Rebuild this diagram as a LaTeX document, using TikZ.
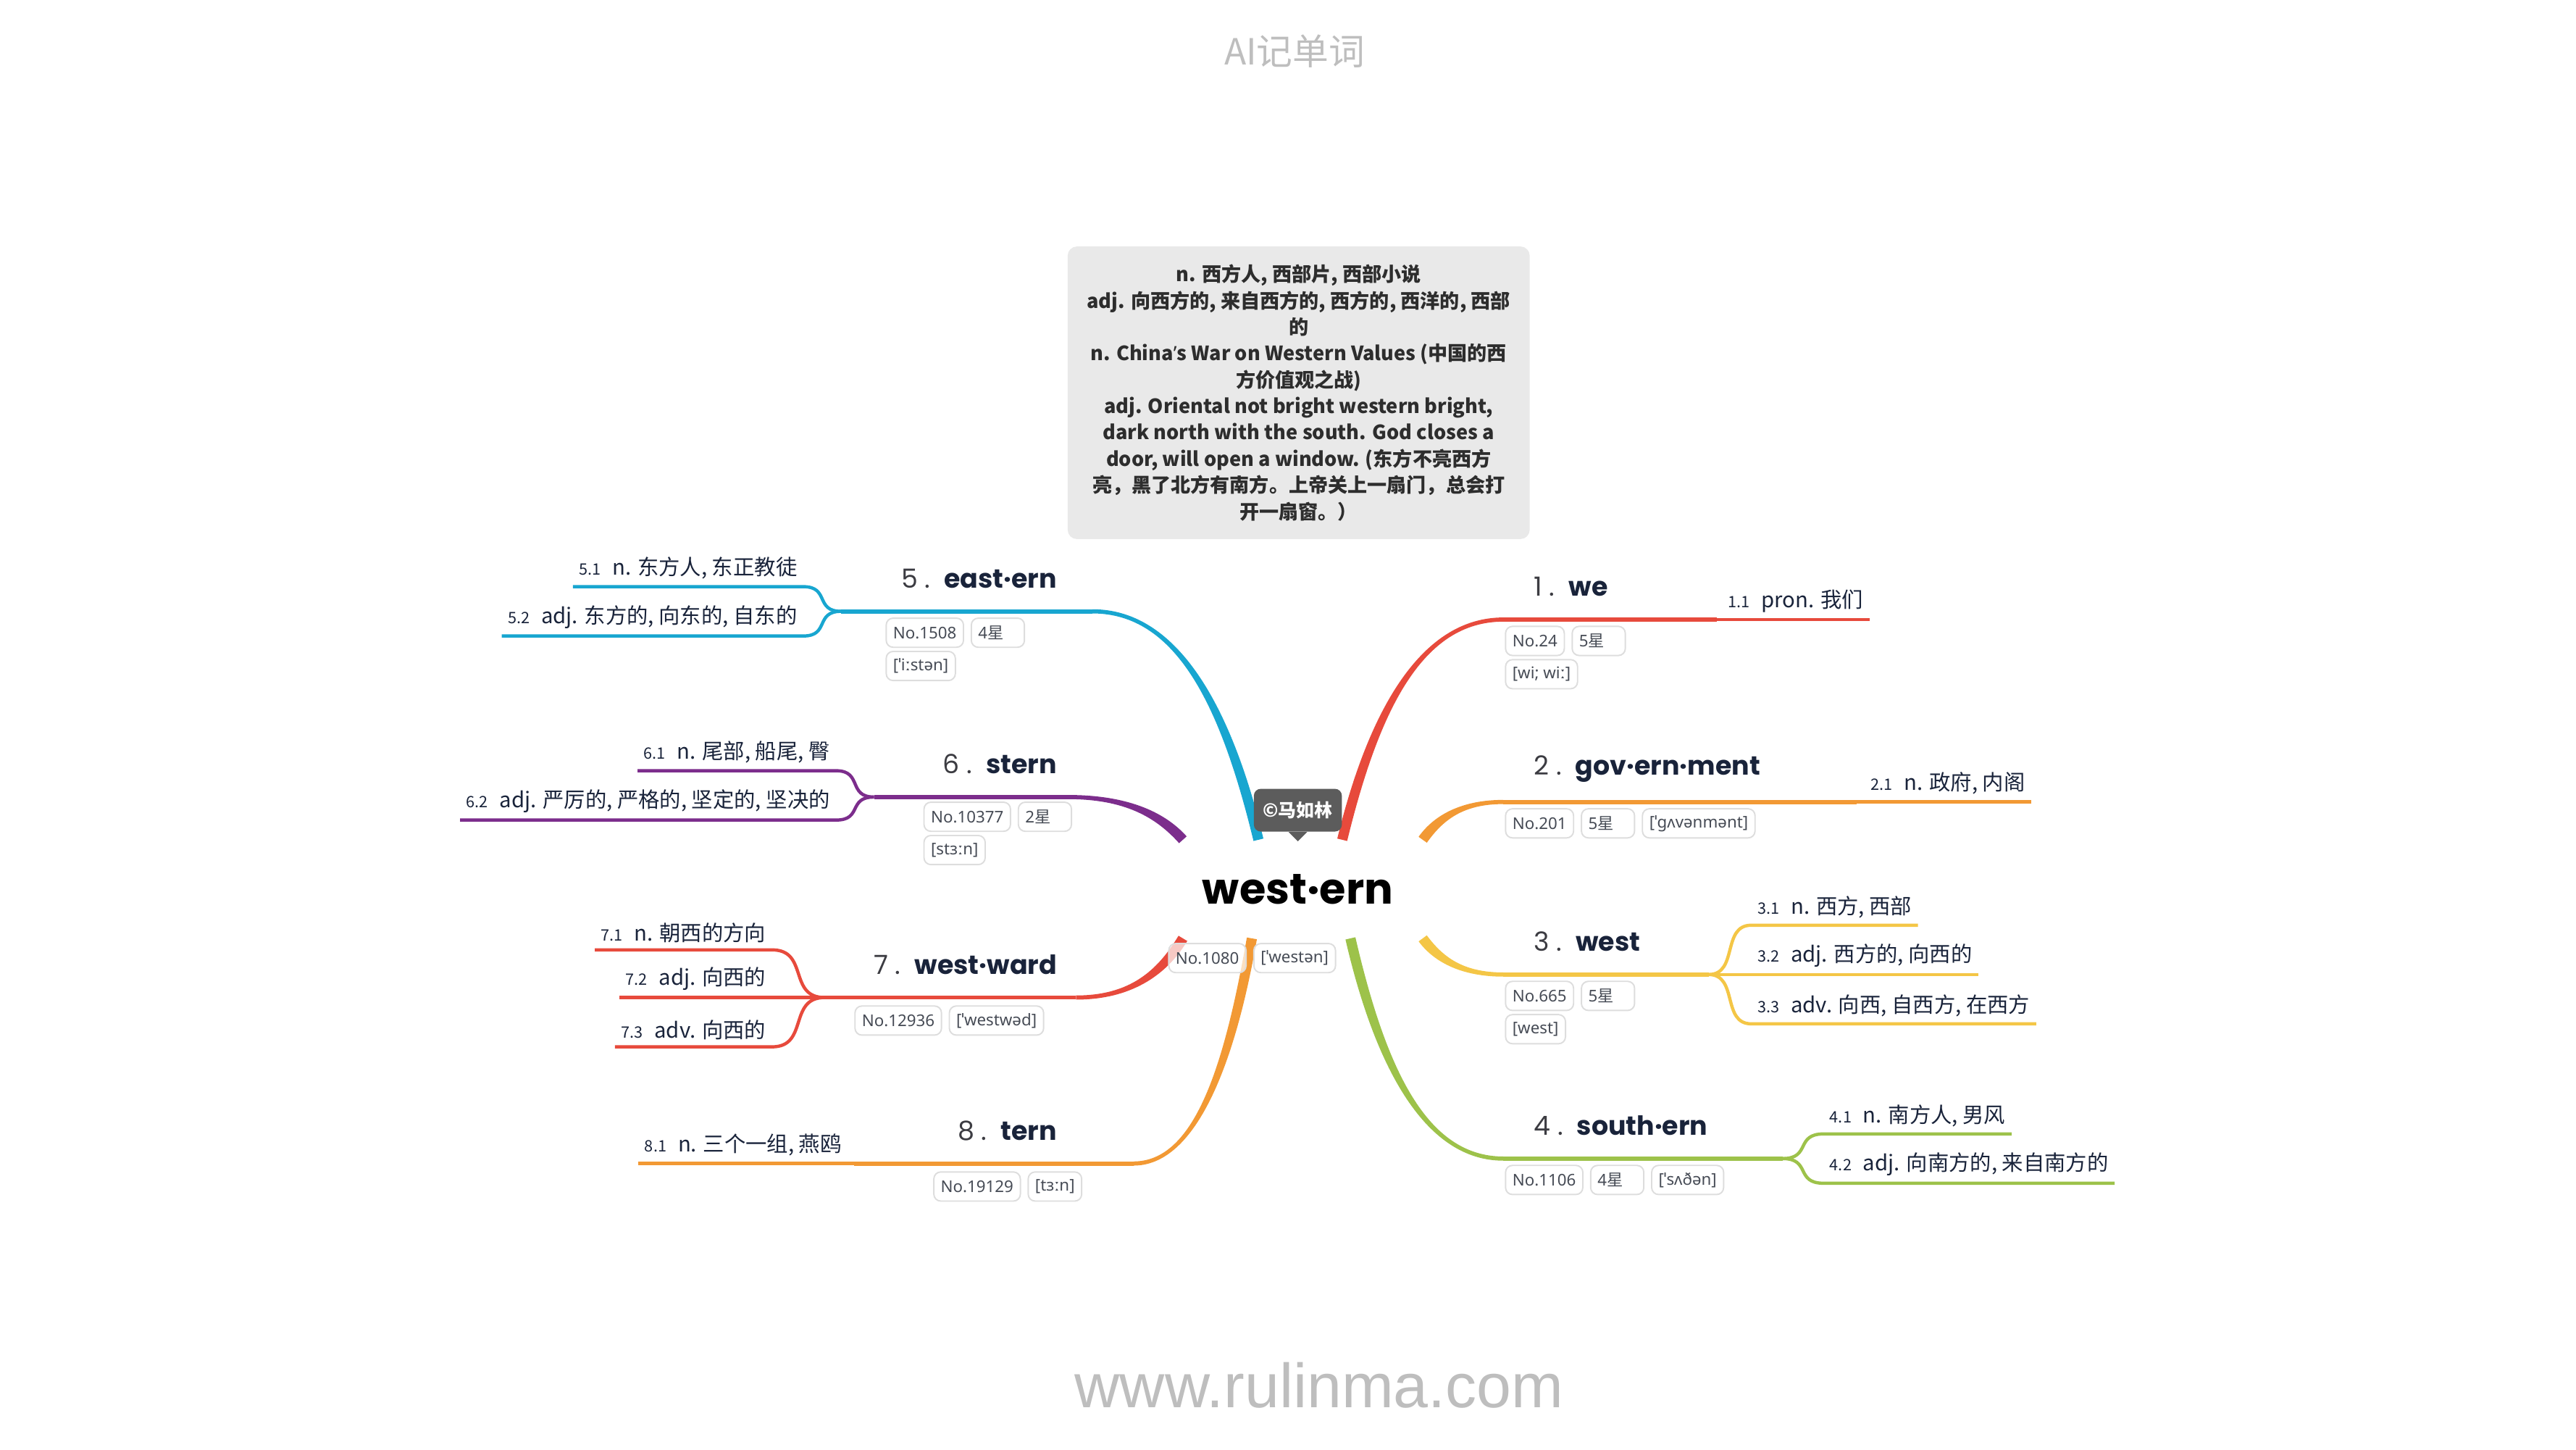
\documentclass[tikz,border=0pt]{standalone}
\usepackage{fontspec}
\setmainfont{Noto Sans CJK SC}
\newfontfamily\headfont{Poppins}
\newfontfamily\tagfont{Noto Sans}
\newfontfamily\urlfont{Liberation Sans}
\usetikzlibrary{positioning,calc}
\definecolor{cred}{RGB}{231,74,60}
\definecolor{corange}{RGB}{242,153,52}
\definecolor{cyellow}{RGB}{244,198,70}
\definecolor{cgreen}{RGB}{157,194,74}
\definecolor{cblue}{RGB}{24,166,208}
\definecolor{cpurple}{RGB}{124,45,140}
\definecolor{ink}{RGB}{25,35,58}
\definecolor{numgrey}{RGB}{60,60,66}
\definecolor{boxgrey}{RGB}{233,233,233}
\definecolor{boxtext}{RGB}{45,45,45}
\definecolor{bubble}{RGB}{92,92,92}
\definecolor{tagline}{RGB}{221,221,221}
\definecolor{tagtext}{RGB}{70,75,85}
\definecolor{faint}{RGB}{190,190,190}
\tikzset{
  topic/.style={font=\headfont\fontsize{11.4}{13}\selectfont,text=ink,inner sep=1pt},
  sense/.style={font=\fontsize{9.2}{11}\selectfont,text=ink,inner xsep=2.5pt,inner ysep=3pt},
  tag/.style={draw=tagline,fill=white,fill opacity=0.7,text opacity=1,rounded corners=3pt,
    line width=0.6pt,font=\tagfont\fontsize{7}{8}\selectfont,text=tagtext,
    minimum height=12.6pt,inner xsep=3pt,inner ysep=0pt},
  star/.style={tag,text width=17pt,align=left},
  limb/.style={line width=1.8pt},
  twig/.style={line width=1.4pt},
}
\newcommand{\hd}[2]{{\color{numgrey}#1\ .}\hspace{6pt}\textbf{#2}}
\newcommand{\sn}[2]{{\fontsize{6.8}{7}\selectfont #1}\hspace{5pt}#2}
\newcommand{\xing}[1]{#1{\normalfont 星}}

\begin{document}
\begin{tikzpicture}[x=0.025cm,y=-0.025cm]
  \useasboundingbox (0,0) rectangle (1568,882);

  % header, footer
  \node[font=\fontsize{15.6}{18}\selectfont,text=faint] (ttl) at (788,31) {AI记单词};
  \node[font=\urlfont\fontsize{27}{30}\selectfont,text=faint] (url) at (803,843) {www.rulinma.com};

  % definitions
  \node[fill=boxgrey,rounded corners=4pt,minimum width=200pt,minimum height=126.6pt,align=center,
    font=\bfseries\fontsize{8.5}{11.4}\selectfont,text=boxtext] (defs) at (790.5,239)
    {n. 西方人, 西部片, 西部小说\\
     adj. 向西方的, 来自西方的, 西方的, 西洋的, 西部\\
     的\\
     n. China{\tagfont ’}s War on Western Values (中国的西\\
     方价值观之战)\\
     adj. Oriental not bright western bright,\\
     dark north with the south. God closes a\\
     door, will open a window. (东方不亮西方\\
     亮，黑了北方有南方。上帝关上一扇门，总会打\\
     开一扇窗。）};

  % main branches
  \foreach \i/\c/\sx/\sy/\ex/\ey/\fx in {1/cred/817/511/915/377/1045,
    2/corange/866/511/915/488/1130, 3/cyellow/866/571/915/593/1040,
    4/cgreen/822/571/915/705/1085, 5/cblue/766/511/665/372/512,
    6/cpurple/720/511/650/485/532, 7/cred/720/571/655/607/502,
    8/corange/762/571/690/708/520}
  {
    \pgfmathsetmacro{\ax}{\sx+0.2*(\ex-\sx)}
    \pgfmathsetmacro{\ay}{\sy+0.6*(\ey-\sy)}
    \pgfmathsetmacro{\bx}{\ex-0.5*(\ex-\sx)}
    \coordinate (s\i) at (\sx,\sy);
    \coordinate (a\i) at (\ax,\ay);
    \coordinate (b\i) at (\bx,\ey);
    \coordinate (e\i) at (\ex,\ey);
    \coordinate (f\i) at (\fx,\ey);
    \coordinate (sl\i) at ($(s\i)!2.2pt!90:(a\i)$);
    \coordinate (sr\i) at ($(s\i)!2.2pt!-90:(a\i)$);
    \coordinate (el\i) at ($(e\i)!0.9pt!-90:(b\i)$);
    \coordinate (er\i) at ($(e\i)!0.9pt!90:(b\i)$);
    \fill[\c] (sl\i) .. controls ($(a\i)+(sl\i)-(s\i)$) and ($(b\i)+(el\i)-(e\i)$) .. (el\i)
      -- (er\i) .. controls ($(b\i)+(er\i)-(e\i)$) and ($(a\i)+(sr\i)-(s\i)$) .. (sr\i) -- cycle;
    \draw[limb,\c] (e\i) -- (f\i);
  }

  % senses
  \foreach \c/\i/\j/\y/\gx/\a/\b/\t in {
    cred/1/1/377/1048/south west/south east/{pron. 我们},
    corange/2/1/488/1135/south west/south east/{n. 政府, 内阁},
    cyellow/3/1/563/1066/south west/south east/{n. 西方, 西部},
    cyellow/3/2/593/1066/south west/south east/{adj. 西方的, 向西的},
    cyellow/3/3/623/1066/south west/south east/{adv. 向西, 自西方, 在西方},
    cgreen/4/1/690/1110/south west/south east/{n. 南方人, 男风},
    cgreen/4/2/720/1110/south west/south east/{adj. 向南方的, 来自南方的},
    cblue/5/1/357/489/south east/south west/{n. 东方人, 东正教徒},
    cblue/5/2/387/489/south east/south west/{adj. 东方的, 向东的, 自东的},
    cpurple/6/1/469/509/south east/south west/{n. 尾部, 船尾, 臀},
    cpurple/6/2/499/509/south east/south west/{adj. 严厉的, 严格的, 坚定的, 坚决的},
    cred/7/1/578/470/south east/south west/{n. 朝西的方向},
    cred/7/2/607/470/south east/south west/{adj. 向西的},
    cred/7/3/637/470/south east/south west/{adv. 向西的},
    corange/8/1/708/516/south east/south west/{n. 三个一组, 燕鸥}}
  {
    \coordinate (g\i\j) at (\gx,\y);
    \coordinate (u\i\j) at ($(f\i)!0.7!(g\i\j)$);
    \coordinate (v\i\j) at ($(f\i)!0.3!(g\i\j)$);
    \node[sense,anchor=\a] (t\i\j) at (g\i\j) {\sn{\i.\j}{\t}};
    \draw[twig,\c] (f\i) .. controls (u\i\j |- f\i) and (v\i\j |- g\i\j) .. (g\i\j) -- (t\i\j.\b);
  }

  % topics
  \foreach \i/\x/\y/\a/\w in {1/932/357/west/we, 2/932/468/west/gov·ern·ment,
    3/932/573/west/west, 4/932/685/west/south·ern, 5/645/352/east/east·ern,
    6/645/465/east/stern, 7/645/587/east/west·ward, 8/645/688/east/tern}
    \node[topic,anchor=\a] (h\i) at (\x,\y) {\hd{\i}{\w}};

  % tags
  \node[tag,anchor=west] (n1) at (916,390) {No.24};
  \node[star,right=2.8pt of n1] (r1) {\xing{5}};
  \node[tag,below=1.2pt of n1.south west,anchor=north west] (p1) {[wi; wiː]};
  \node[tag,anchor=west] (n2) at (916,501) {No.201};
  \node[star,right=2.8pt of n2] (r2) {\xing{5}};
  \node[tag,right=2.8pt of r2] (p2) {[ˈgʌvənmənt]};
  \node[tag,anchor=west] (n3) at (916,606) {No.665};
  \node[star,right=2.8pt of n3] (r3) {\xing{5}};
  \node[tag,below=1.2pt of n3.south west,anchor=north west] (p3) {[west]};
  \node[tag,anchor=west] (n4) at (916,718) {No.1106};
  \node[star,right=2.8pt of n4] (r4) {\xing{4}};
  \node[tag,right=2.8pt of r4] (p4) {[ˈsʌðən]};
  \node[tag,anchor=west] (n5) at (539,385) {No.1508};
  \node[star,right=2.8pt of n5] (r5) {\xing{4}};
  \node[tag,below=1.2pt of n5.south west,anchor=north west] (p5) {[ˈiːstən]};
  \node[tag,anchor=west] (n6) at (562,497) {No.10377};
  \node[star,right=2.8pt of n6] (r6) {\xing{2}};
  \node[tag,below=1.2pt of n6.south west,anchor=north west] (p6) {[stɜːn]};
  \node[tag,anchor=west] (n7) at (520,621) {No.12936};
  \node[tag,right=2.8pt of n7] (p7) {[ˈwestwəd]};
  \node[tag,anchor=west] (n8) at (568,722) {No.19129};
  \node[tag,right=2.8pt of n8] (p8) {[tɜːn]};

  % root
  \node[font=\headfont\bfseries\fontsize{18.5}{20}\selectfont] (root) at (790,541) {west·ern};
  \node[tag,anchor=west] (n0) at (711,583) {No.1080};
  \node[tag,right=2.8pt of n0] (p0) {[ˈwestən]};
  \node[fill=bubble,text=white,rounded corners=3pt,minimum height=18.5pt,inner xsep=4pt,
    font=\bfseries\fontsize{7.8}{9}\selectfont] (copy) at (790,493) {©马如林};
  \fill[bubble] ([xshift=-4pt]copy.south) -- ([yshift=-4pt]copy.south) -- ([xshift=4pt]copy.south) -- cycle;
\end{tikzpicture}
\end{document}
